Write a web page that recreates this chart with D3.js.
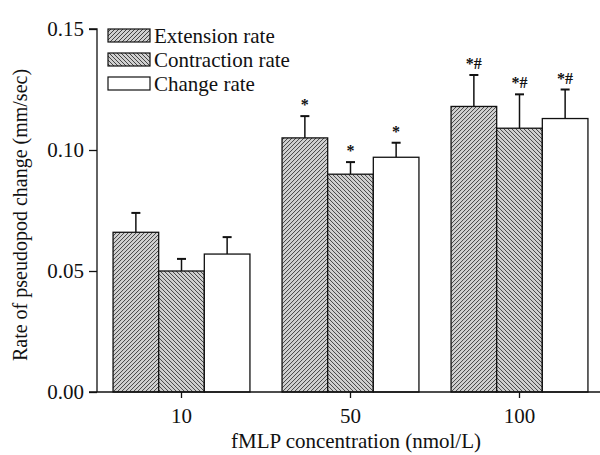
<!DOCTYPE html>
<html><head><meta charset="utf-8">
<script src="https://cdn.jsdelivr.net/npm/d3@7"></script>
<style>body{margin:0;background:#fff}text{font-family:"Liberation Serif","Times New Roman",serif;fill:#111}</style>
</head><body><svg id="c" width="600" height="455"></svg>
<script>
const categories = ["10", "50", "100"];
const seriesNames = ["Extension rate", "Contraction rate", "Change rate"];
const extension = [0.066, 0.105, 0.118];
const extensionErr = [0.008, 0.009, 0.013];
const contraction = [0.050, 0.090, 0.109];
const contractionErr = [0.005, 0.005, 0.014];
const change = [0.057, 0.097, 0.113];
const changeErr = [0.007, 0.006, 0.012];
const marks = [["", "", ""], ["*", "*", "*"], ["*#", "*#", "*#"]];
const yTicks = [0.00, 0.05, 0.10, 0.15];

const values = [extension, contraction, change];
const errs = [extensionErr, contractionErr, changeErr];

const svg = d3.select("#c");
const defs = svg.append("defs");
function hatch(id, dir) {
  const p = defs.append("pattern").attr("id", id).attr("patternUnits", "userSpaceOnUse")
    .attr("width", 4).attr("height", 4);
  p.append("rect").attr("width", 4).attr("height", 4).attr("fill", "#d0d0d0");
  const d = dir > 0 ? "M-1,1 l2,-2 M0,4 l4,-4 M3,5 l2,-2" : "M-1,3 l2,2 M0,0 l4,4 M3,-1 l2,2";
  p.append("path").attr("d", d).attr("stroke", "#444").attr("stroke-width", 1.0);
}
hatch("h1", 1);
hatch("h2", -1);
const fills = ["url(#h1)", "url(#h2)", "#fff"];

const x0 = d3.scaleBand().domain(categories).range([97, 604]).paddingInner(0.19).paddingOuter(0.095);
const x1 = d3.scaleBand().domain(d3.range(3)).range([0, x0.bandwidth()]);
const y = d3.scaleLinear().domain([0, 0.15]).range([392, 29]);

// bars
categories.forEach((c, gi) => {
  const g = svg.append("g").attr("transform", `translate(${x0(c)},0)`);
  values.forEach((arr, si) => {
    const v = arr[gi], e = errs[si][gi];
    const bx = x1(si), bw = x1.bandwidth(), cx = bx + bw / 2;
    g.append("line").attr("x1", cx).attr("x2", cx).attr("y1", y(v)).attr("y2", y(v + e))
      .attr("stroke", "#111").attr("stroke-width", 1.5);
    g.append("line").attr("x1", cx - 4.5).attr("x2", cx + 4.5).attr("y1", y(v + e)).attr("y2", y(v + e))
      .attr("stroke", "#111").attr("stroke-width", 2);
    g.append("rect").attr("x", bx).attr("y", y(v)).attr("width", bw).attr("height", y(0) - y(v))
      .attr("fill", fills[si]).attr("stroke", "#111").attr("stroke-width", 1.3);
    const m = marks[gi][si];
    if (m) g.append("text").attr("x", cx).attr("y", y(v + e) - 6).attr("text-anchor", "middle")
      .attr("font-size", 16).attr("font-weight", "bold").text(m);
  });
});

// axes
const yAxis = d3.axisLeft(y).tickValues(yTicks).tickFormat(d3.format(".2f")).tickSize(8).tickPadding(5);
const ga = svg.append("g").attr("transform", "translate(97,0)").call(yAxis);
ga.select(".domain").attr("d", `M-8,${y(0.15)}H0V${y(0)}`).attr("stroke", "#111").attr("stroke-width", 1.3);
ga.selectAll("text").attr("font-size", 21).attr("font-family", "Liberation Serif").attr("fill", "#111");
ga.selectAll("line").attr("stroke", "#111").attr("stroke-width", 1.3);

const xAxis = d3.axisBottom(x0).tickSize(6).tickPadding(10);
const gx = svg.append("g").attr("transform", `translate(0,${y(0)})`).call(xAxis);
gx.select(".domain").attr("d", `M89,0H600`).attr("stroke", "#111").attr("stroke-width", 1.3);
gx.selectAll("text").attr("font-size", 21).attr("font-family", "Liberation Serif").attr("fill", "#111");
gx.selectAll("line").attr("stroke", "#111").attr("stroke-width", 1.3);

// titles
svg.append("text").attr("x", 356).attr("y", 448).attr("text-anchor", "middle").attr("font-size", 21)
  .text("fMLP concentration (nmol/L)");
svg.append("text").attr("transform", "translate(27,215) rotate(-90)").attr("text-anchor", "middle")
  .attr("font-size", 20).text("Rate of pseudopod change (mm/sec)");

// legend
seriesNames.forEach((n, i) => {
  const ly = 29 + i * 24;
  svg.append("rect").attr("x", 108).attr("y", ly).attr("width", 42).attr("height", 13)
    .attr("fill", fills[i]).attr("stroke", "#111").attr("stroke-width", 1.2);
  svg.append("text").attr("x", 154).attr("y", ly + 14).attr("font-size", 21).text(n);
});
</script></body></html>
